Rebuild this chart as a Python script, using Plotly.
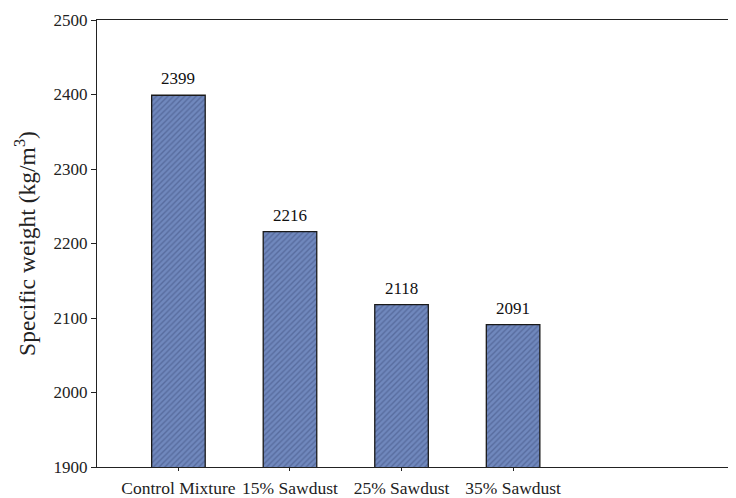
import plotly.graph_objects as go

categories = ["Control Mixture", "15% Sawdust", "25% Sawdust", "35% Sawdust"]
values = [2399, 2216, 2118, 2091]
y_ticks = [1900, 2000, 2100, 2200, 2300, 2400, 2500]

fig = go.Figure()
fig.add_trace(go.Bar(
    x=categories, y=values,
    width=0.48,
    marker=dict(color="#7088bd",
                line=dict(color="#1a1a1a", width=1.3),
                pattern=dict(shape="/", fgcolor="#3f4f80", size=4, solidity=0.35)),
))
for c, v in zip(categories, values):
    fig.add_annotation(x=c, y=v, text=str(v), showarrow=False, yanchor="bottom",
                       yshift=5, font=dict(family="Liberation Serif", size=17, color="#111"))

fig.update_layout(
    width=736, height=498,
    margin=dict(l=89, r=0, t=12, b=39),
    plot_bgcolor="white", paper_bgcolor="white",
    font=dict(family="Liberation Serif", size=16, color="#222"),
    showlegend=False,
    xaxis=dict(range=[-0.73, 5.07], showline=True, linecolor="#222", linewidth=1.3,
               mirror=True, ticks="outside", ticklen=3, tickcolor="#222",
               showgrid=False, tickfont=dict(size=17.5), ticklabelstandoff=2,
               automargin=False),
    yaxis=dict(range=[1900, 2500], tickvals=y_ticks, showline=True, linecolor="#222",
               linewidth=1.3, ticks="outside", ticklen=5, tickcolor="#222",
               showgrid=False, zeroline=False, tickfont=dict(size=17), automargin=False,
               title=dict(text="Specific weight (kg/m<sup>3</sup>)", font=dict(size=23.5), standoff=11)),
)
fig.write_html("out.html")
